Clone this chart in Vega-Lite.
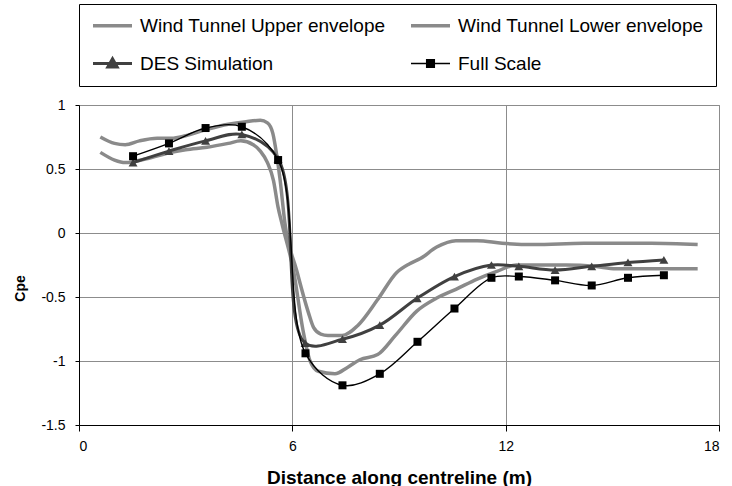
{
  "$schema": "https://vega.github.io/schema/vega-lite/v6.json",
  "width": 640,
  "height": 320,
  "autosize": {"type": "none"},
  "padding": {"left": 79, "top": 105, "right": 13, "bottom": 61},
  "background": "white",
  "config": {
    "view": {"stroke": "#8c8c8c", "strokeWidth": 1},
    "font": "Liberation Sans",
    "axis": {
      "gridColor": "#8c8c8c",
      "gridWidth": 1,
      "gridOpacity": 1,
      "domainColor": "#000000",
      "domainWidth": 1,
      "tickColor": "#000000",
      "labelColor": "#000000",
      "titleColor": "#000000",
      "labelFont": "Liberation Sans",
      "titleFont": "Liberation Sans",
      "labelFontSize": 14,
      "titleFontWeight": "bold"
    }
  },
  "data": {
    "values": [
      {"series": "Wind Tunnel Upper envelope", "x": 0.6, "y": 0.75},
      {"series": "Wind Tunnel Upper envelope", "x": 1.0, "y": 0.70},
      {"series": "Wind Tunnel Upper envelope", "x": 1.3, "y": 0.69},
      {"series": "Wind Tunnel Upper envelope", "x": 1.7, "y": 0.72},
      {"series": "Wind Tunnel Upper envelope", "x": 2.2, "y": 0.74},
      {"series": "Wind Tunnel Upper envelope", "x": 2.6, "y": 0.74},
      {"series": "Wind Tunnel Upper envelope", "x": 3.0, "y": 0.76},
      {"series": "Wind Tunnel Upper envelope", "x": 3.6, "y": 0.81},
      {"series": "Wind Tunnel Upper envelope", "x": 4.2, "y": 0.85},
      {"series": "Wind Tunnel Upper envelope", "x": 4.7, "y": 0.87},
      {"series": "Wind Tunnel Upper envelope", "x": 5.1, "y": 0.88},
      {"series": "Wind Tunnel Upper envelope", "x": 5.3, "y": 0.86},
      {"series": "Wind Tunnel Upper envelope", "x": 5.45, "y": 0.78},
      {"series": "Wind Tunnel Upper envelope", "x": 5.56, "y": 0.61},
      {"series": "Wind Tunnel Upper envelope", "x": 5.65, "y": 0.43},
      {"series": "Wind Tunnel Upper envelope", "x": 5.79, "y": 0.08},
      {"series": "Wind Tunnel Upper envelope", "x": 6.12, "y": -0.29},
      {"series": "Wind Tunnel Upper envelope", "x": 6.45, "y": -0.62},
      {"series": "Wind Tunnel Upper envelope", "x": 6.6, "y": -0.74},
      {"series": "Wind Tunnel Upper envelope", "x": 6.8, "y": -0.79},
      {"series": "Wind Tunnel Upper envelope", "x": 7.0, "y": -0.80},
      {"series": "Wind Tunnel Upper envelope", "x": 7.4, "y": -0.80},
      {"series": "Wind Tunnel Upper envelope", "x": 7.85, "y": -0.72},
      {"series": "Wind Tunnel Upper envelope", "x": 8.4, "y": -0.52},
      {"series": "Wind Tunnel Upper envelope", "x": 8.93, "y": -0.31},
      {"series": "Wind Tunnel Upper envelope", "x": 9.3, "y": -0.24},
      {"series": "Wind Tunnel Upper envelope", "x": 9.6, "y": -0.20},
      {"series": "Wind Tunnel Upper envelope", "x": 10.06, "y": -0.11},
      {"series": "Wind Tunnel Upper envelope", "x": 10.6, "y": -0.06},
      {"series": "Wind Tunnel Upper envelope", "x": 11.2, "y": -0.06},
      {"series": "Wind Tunnel Upper envelope", "x": 11.9, "y": -0.08},
      {"series": "Wind Tunnel Upper envelope", "x": 12.8, "y": -0.09},
      {"series": "Wind Tunnel Upper envelope", "x": 14.2, "y": -0.08},
      {"series": "Wind Tunnel Upper envelope", "x": 16.1, "y": -0.08},
      {"series": "Wind Tunnel Upper envelope", "x": 17.4, "y": -0.09},
      {"series": "Wind Tunnel Lower envelope", "x": 0.6, "y": 0.63},
      {"series": "Wind Tunnel Lower envelope", "x": 1.0, "y": 0.57},
      {"series": "Wind Tunnel Lower envelope", "x": 1.3, "y": 0.55},
      {"series": "Wind Tunnel Lower envelope", "x": 1.9, "y": 0.58},
      {"series": "Wind Tunnel Lower envelope", "x": 2.6, "y": 0.63},
      {"series": "Wind Tunnel Lower envelope", "x": 3.0, "y": 0.65},
      {"series": "Wind Tunnel Lower envelope", "x": 3.6, "y": 0.67},
      {"series": "Wind Tunnel Lower envelope", "x": 4.2, "y": 0.70},
      {"series": "Wind Tunnel Lower envelope", "x": 4.55, "y": 0.72},
      {"series": "Wind Tunnel Lower envelope", "x": 4.9, "y": 0.69},
      {"series": "Wind Tunnel Lower envelope", "x": 5.1, "y": 0.64},
      {"series": "Wind Tunnel Lower envelope", "x": 5.3, "y": 0.55},
      {"series": "Wind Tunnel Lower envelope", "x": 5.47, "y": 0.41},
      {"series": "Wind Tunnel Lower envelope", "x": 5.6, "y": 0.20},
      {"series": "Wind Tunnel Lower envelope", "x": 5.72, "y": 0.06},
      {"series": "Wind Tunnel Lower envelope", "x": 6.03, "y": -0.29},
      {"series": "Wind Tunnel Lower envelope", "x": 6.3, "y": -0.76},
      {"series": "Wind Tunnel Lower envelope", "x": 6.5, "y": -1.0},
      {"series": "Wind Tunnel Lower envelope", "x": 6.73, "y": -1.08},
      {"series": "Wind Tunnel Lower envelope", "x": 7.2, "y": -1.10},
      {"series": "Wind Tunnel Lower envelope", "x": 7.55, "y": -1.05},
      {"series": "Wind Tunnel Lower envelope", "x": 7.9, "y": -0.99},
      {"series": "Wind Tunnel Lower envelope", "x": 8.4, "y": -0.95},
      {"series": "Wind Tunnel Lower envelope", "x": 8.9, "y": -0.80},
      {"series": "Wind Tunnel Lower envelope", "x": 9.5, "y": -0.61},
      {"series": "Wind Tunnel Lower envelope", "x": 10.05, "y": -0.51},
      {"series": "Wind Tunnel Lower envelope", "x": 10.6, "y": -0.44},
      {"series": "Wind Tunnel Lower envelope", "x": 11.2, "y": -0.36},
      {"series": "Wind Tunnel Lower envelope", "x": 11.75, "y": -0.30},
      {"series": "Wind Tunnel Lower envelope", "x": 12.3, "y": -0.25},
      {"series": "Wind Tunnel Lower envelope", "x": 13.0, "y": -0.25},
      {"series": "Wind Tunnel Lower envelope", "x": 13.7, "y": -0.25},
      {"series": "Wind Tunnel Lower envelope", "x": 14.5, "y": -0.26},
      {"series": "Wind Tunnel Lower envelope", "x": 15.1, "y": -0.28},
      {"series": "Wind Tunnel Lower envelope", "x": 16.2, "y": -0.28},
      {"series": "Wind Tunnel Lower envelope", "x": 17.4, "y": -0.28},
      {"series": "DES Simulation", "x": 1.52, "y": 0.55},
      {"series": "DES Simulation", "x": 2.53, "y": 0.64},
      {"series": "DES Simulation", "x": 3.56, "y": 0.72},
      {"series": "DES Simulation", "x": 4.58, "y": 0.77},
      {"series": "DES Simulation", "x": 5.6, "y": 0.58},
      {"series": "DES Simulation", "x": 6.36, "y": -0.86},
      {"series": "DES Simulation", "x": 7.41, "y": -0.83},
      {"series": "DES Simulation", "x": 8.46, "y": -0.72},
      {"series": "DES Simulation", "x": 9.51, "y": -0.51},
      {"series": "DES Simulation", "x": 10.56, "y": -0.34},
      {"series": "DES Simulation", "x": 11.6, "y": -0.25},
      {"series": "DES Simulation", "x": 12.37, "y": -0.26},
      {"series": "DES Simulation", "x": 13.39, "y": -0.29},
      {"series": "DES Simulation", "x": 14.42, "y": -0.26},
      {"series": "DES Simulation", "x": 15.44, "y": -0.23},
      {"series": "DES Simulation", "x": 16.45, "y": -0.21},
      {"series": "Full Scale", "x": 1.52, "y": 0.60},
      {"series": "Full Scale", "x": 2.53, "y": 0.70},
      {"series": "Full Scale", "x": 3.56, "y": 0.82},
      {"series": "Full Scale", "x": 4.58, "y": 0.83},
      {"series": "Full Scale", "x": 5.6, "y": 0.57},
      {"series": "Full Scale", "x": 6.37, "y": -0.94},
      {"series": "Full Scale", "x": 7.41, "y": -1.19},
      {"series": "Full Scale", "x": 8.46, "y": -1.10},
      {"series": "Full Scale", "x": 9.52, "y": -0.85},
      {"series": "Full Scale", "x": 10.56, "y": -0.59},
      {"series": "Full Scale", "x": 11.6, "y": -0.35},
      {"series": "Full Scale", "x": 12.37, "y": -0.34},
      {"series": "Full Scale", "x": 13.39, "y": -0.37},
      {"series": "Full Scale", "x": 14.42, "y": -0.41},
      {"series": "Full Scale", "x": 15.44, "y": -0.35},
      {"series": "Full Scale", "x": 16.45, "y": -0.33}
    ]
  },
  "encoding": {
    "x": {
      "field": "x", "type": "quantitative",
      "scale": {"domain": [0, 18], "nice": false, "zero": false},
      "axis": {
        "values": [0, 6, 12, 18],
        "title": "Distance along centreline (m)",
        "titleFontSize": 19,
        "titleX": 320, "titleY": 58, "titleBaseline": "alphabetic", "titleAnchor": "middle", "titleAlign": "center",
        "tickSize": 6, "labelPadding": 8,
        "labelExpr": "'' + datum.value",
        "grid": true
      }
    },
    "y": {
      "field": "y", "type": "quantitative",
      "scale": {"domain": [-1.5, 1], "nice": false, "zero": false},
      "axis": {
        "values": [-1.5, -1, -0.5, 0, 0.5, 1],
        "title": "Cpe",
        "titleFontSize": 14,
        "titleAngle": 270,
        "titleX": -55, "titleY": 183, "titleBaseline": "alphabetic", "titleAlign": "center",
        "tickSize": 4, "labelPadding": 10,
        "labelExpr": "'' + datum.value",
        "grid": true
      }
    }
  },
  "layer": [
    {
      "transform": [{"filter": "indexof(datum.series, 'Wind Tunnel') === 0"}],
      "mark": {"type": "line", "interpolate": "monotone", "strokeWidth": 3.5},
      "encoding": {
        "detail": {"field": "series", "type": "nominal"},
        "color": {
          "field": "series", "type": "nominal",
          "scale": {
            "domain": ["Wind Tunnel Upper envelope", "Wind Tunnel Lower envelope", "DES Simulation", "Full Scale"],
            "range": ["#8a8a8a", "#8a8a8a", "#404040", "#000000"]
          },
          "legend": {
            "orient": "none",
            "legendX": 0,
            "legendY": -101,
            "direction": "horizontal",
            "columns": 2,
            "title": null,
            "padding": 12,
            "strokeColor": "#000000",
            "fillColor": "#ffffff",
            "columnPadding": 18,
            "rowPadding": 16,
            "labelFont": "Liberation Sans",
            "labelFontSize": 19,
            "labelColor": "#000000",
            "labelLimit": 0,
            "labelOffset": 18,
            "symbolSize": 1521,
            "symbolOffset": 12,
            "symbolType": "stroke",
            "symbolStrokeWidth": 3,
            "encode": {
              "symbols": {
                "update": {
                  "shape": {"signal": "datum.value === 'Full Scale' ? 'M-1,0H1M-0.2,-0.2H0.2V0.2H-0.2Z' : datum.value === 'DES Simulation' ? 'M-1,0H1M0,-0.24L0.24,0.18H-0.24Z' : 'M-1,0H1'"},
                  "strokeWidth": {"signal": "datum.value === 'Full Scale' ? 1.3 : datum.value === 'DES Simulation' ? 3 : 3.5"},
                  "stroke": {"signal": "datum.value === 'Full Scale' ? '#000000' : datum.value === 'DES Simulation' ? '#404040' : '#8a8a8a'"},
                  "fill": {"signal": "datum.value === 'Full Scale' ? '#000000' : datum.value === 'DES Simulation' ? '#404040' : 'transparent'"},
                  "opacity": {"value": 1}
                }
              }
            }
          }
        }
      }
    },
    {
      "transform": [{"filter": "datum.series === 'DES Simulation'"}],
      "mark": {"type": "line", "interpolate": "catmull-rom", "strokeWidth": 3, "color": "#404040"},
      "encoding": {}
    },
    {
      "transform": [{"filter": "datum.series === 'DES Simulation'"}],
      "mark": {"type": "point", "shape": "triangle-up", "filled": true, "size": 80, "color": "#404040", "opacity": 1},
      "encoding": {}
    },
    {
      "transform": [{"filter": "datum.series === 'Full Scale'"}],
      "mark": {"type": "line", "interpolate": "catmull-rom", "strokeWidth": 1.4, "color": "#000000"},
      "encoding": {}
    },
    {
      "transform": [{"filter": "datum.series === 'Full Scale'"}],
      "mark": {"type": "point", "shape": "square", "filled": true, "size": 64, "color": "#000000", "opacity": 1},
      "encoding": {}
    }
  ]
}
